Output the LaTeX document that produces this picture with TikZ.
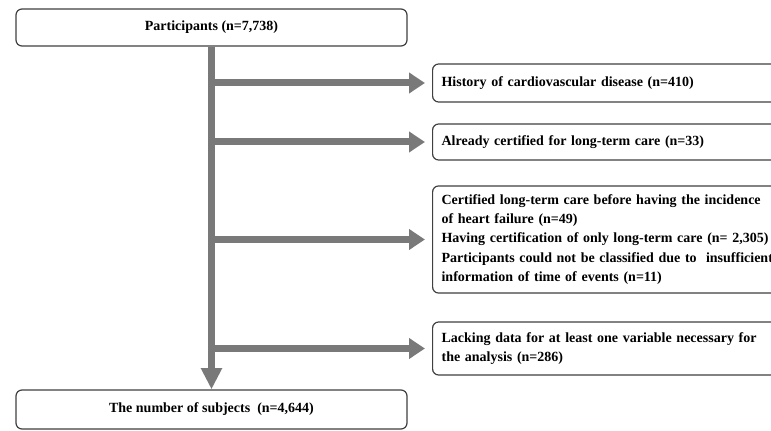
\documentclass[tikz,border=0pt]{standalone}
\usepackage{fontspec}
\setmainfont{Liberation Serif}
\usepackage{tikz}
\usetikzlibrary{arrows.meta}

\tikzset{
  flowbox/.style={draw=black!75, line width=0.9pt, rounded corners=4.5pt, fill=white,
    font=\fontsize{10.5}{14.3}\selectfont\bfseries, inner sep=6.75pt},
  mainbox/.style={flowbox, minimum width=293.25pt, align=center},
  sidebox/.style={flowbox, anchor=west, text width=300pt, align=left},
  trunk/.style={draw=gray!95!black, line width=5.25pt, -{Triangle[length=16pt,width=15pt]}},
  branch/.style={draw=gray!95!black, line width=5.25pt, -{Triangle[length=12pt,width=15pt]}, shorten >=5.25pt}
}

\begin{document}
\begin{tikzpicture}[x=0.75pt, y=-0.75pt]
  \useasboundingbox (0,0) rectangle (771,431);
  \clip (0,0) rectangle (771,431);

      \coordinate (P) at (211.5,27.5);
      \coordinate (S) at (211.5,409.5);
      \coordinate (E1) at (432,83);
      \coordinate (E2) at (432,142);
      \coordinate (E3) at (432,239.5);
      \coordinate (E4) at (432,348.5);

      % BOITES CENTRALES
      \node[mainbox, minimum height=27.75pt] (top) at (P) {Participants (n=7,738)};
      \node[mainbox, minimum height=29.25pt] (bottom) at (S) {The number of subjects~~(n=4,644)};

      % BOITES D'EXCLUSION
      \node[sidebox, minimum height=28.5pt] (ex1) at (E1) {History of cardiovascular disease (n=410)};
      \node[sidebox, minimum height=27pt] (ex2) at (E2) {Already certified for long-term care (n=33)};
      \node[sidebox, minimum height=78.75pt] (ex3) at (E3) {Certified long-term care before having the incidence\\
        of heart failure (n=49)\\
        Having certification of only long-term care (n= 2,305)\\
        Participants could not be classified due to~~insufficient\\
        information of time of events (n=11)};
      \node[sidebox, minimum height=39.75pt] (ex4) at (E4) {Lacking data for at least one variable necessary for\\
        the analysis (n=286)};

      % FLECHES
      \draw[trunk] (top.south) -- (bottom.north);
      \draw[branch] (top.south |- ex1.west) -- (ex1.west);
      \draw[branch] (top.south |- ex2.west) -- (ex2.west);
      \draw[branch] (top.south |- ex3.west) -- (ex3.west);
      \draw[branch] (top.south |- ex4.west) -- (ex4.west);
\end{tikzpicture}
\end{document}
